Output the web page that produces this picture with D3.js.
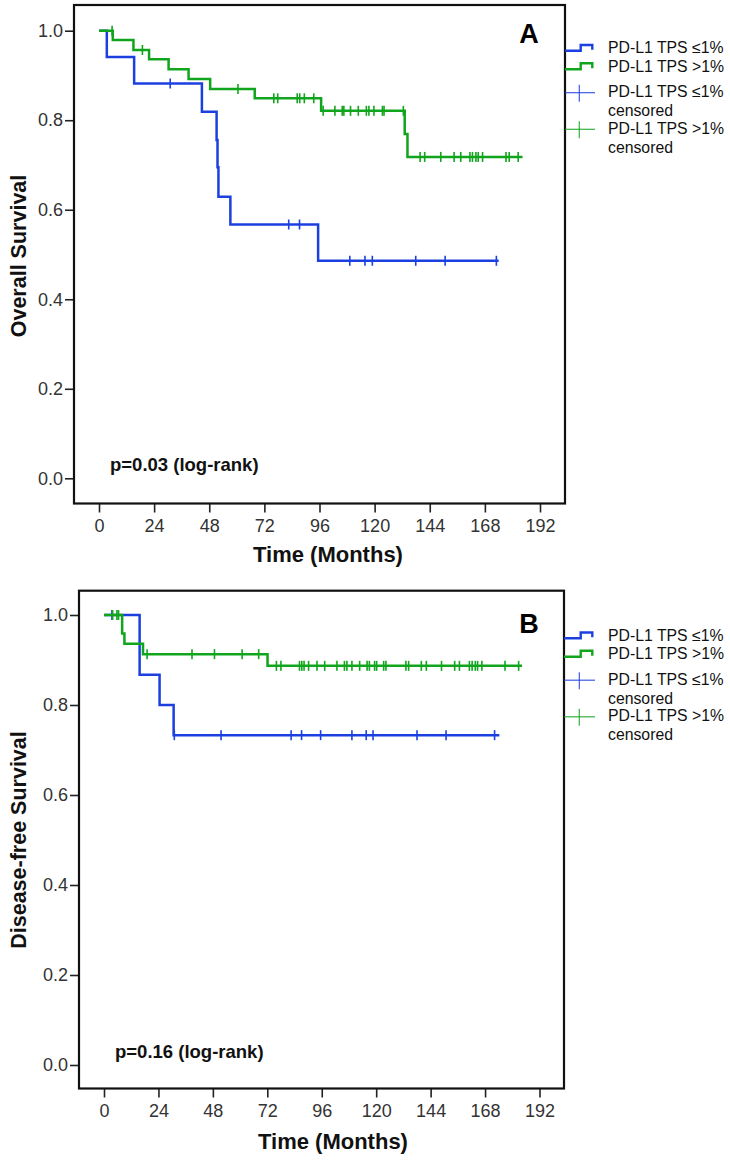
<!DOCTYPE html>
<html>
<head>
<meta charset="utf-8">
<script src="https://cdn.jsdelivr.net/npm/d3@7"></script>
<style>
body { margin: 0; background: #fff; }
svg { display: block; font-family: "Liberation Sans", Arial, sans-serif; }
</style>
</head>
<body>
<div class="chart"></div>
<script>
// Kaplan-Meier data: [time in months, survival]
var osLowSteps = [[0, 1], [3.4, 0.941], [15.3, 0.882], [44.8, 0.819], [51.2, 0.756], [51.6, 0.695], [52.0, 0.629], [57.2, 0.567], [95.4, 0.486]];
var osLowEnd = 174;
var osLowCens = [31, 82.6, 87.3, 109.2, 115.8, 119, 137.9, 150.7, 173];

var osHighSteps = [[0, 1], [6.0, 0.979], [15, 0.957], [21.8, 0.936], [30.3, 0.914], [39, 0.892], [48.4, 0.870], [67.8, 0.849], [96.7, 0.821], [133.1, 0.769], [134.3, 0.718]];
var osHighEnd = 184.4;
var osHighCens = [5.7, 18.9, 60.5, 76.1, 77.8, 86.3, 87.4, 89.4, 93.5, 97.6, 102.7, 105.9, 106.6, 109.5, 112.9, 116.4, 117.5, 119.7, 123.4, 124.1, 132.5,
                  139.8, 141.8, 148.8, 154.6, 157.5, 161.5, 162.6, 164.1, 165.1, 167, 177.2, 178.6, 182.5];

var dfsLowSteps = [[0, 1], [15.7, 0.867], [24.5, 0.800], [30.7, 0.733]];
var dfsLowEnd = 174.3;
var dfsLowCens = [3.5, 31, 51.6, 82.5, 87.1, 95.5, 109.3, 115.6, 118.6, 138, 150.8, 172.2];

var dfsHighSteps = [[0, 1], [8, 0.959], [9, 0.936], [17.2, 0.913], [72.1, 0.887]];
var dfsHighEnd = 184.3;
var dfsHighCens = [3.8, 5.7, 6.4, 19, 38.8, 48.7, 60.9, 68.2, 76, 78, 86.2, 87.2, 88.2, 90.2, 93.9, 97.3, 102.7, 106, 107.1, 109.3, 112.7, 116, 117,
                   119.3, 120.2, 123.3, 124.3, 133.1, 134.3, 139.9, 142.1, 148.8, 154.6, 156.7, 161.1, 162.3, 163.7, 164.7, 166.6, 176.8, 182.8];

var xTicks = [0, 24, 48, 72, 96, 120, 144, 168, 192];
var yTicks = [0, 0.2, 0.4, 0.6, 0.8, 1.0];
var groupLabels = ["PD-L1 TPS \u22641%", "PD-L1 TPS >1%"];

var blue = "#1c40e0";
var green = "#10a51c";

var svg = d3.select(".chart")
            .append("svg")
            .attr("width", 730)
            .attr("height", 1162);

var panels = [
    {
        left: 74, right: 565, top: 5, bottom: 503.5,
        xRange: [99, 540], yRange: [478.3, 30.7],
        yTitle: "Overall Survival", yTitleY: 256,
        xTitleX: 328, xTitleY: 562,
        letter: "A", letterY: 43,
        pText: "p=0.03 (log-rank)", pX: 110, pY: 471,
        legendDy: 0,
        series: [
            {steps: osLowSteps, end: osLowEnd, cens: osLowCens, color: blue},
            {steps: osHighSteps, end: osHighEnd, cens: osHighCens, color: green}
        ]
    },
    {
        left: 79, right: 564, top: 590.7, bottom: 1088.5,
        xRange: [104, 539.5], yRange: [1065, 615],
        yTitle: "Disease-free Survival", yTitleY: 840,
        xTitleX: 333, xTitleY: 1149,
        letter: "B", letterY: 632.5,
        pText: "p=0.16 (log-rank)", pX: 115, pY: 1058,
        legendDy: 587.5,
        series: [
            {steps: dfsLowSteps, end: dfsLowEnd, cens: dfsLowCens, color: blue},
            {steps: dfsHighSteps, end: dfsHighEnd, cens: dfsHighCens, color: green}
        ]
    }
];

// survival value of a step curve at time t
function survAt(steps, t) {
    var s = steps[0][1];
    steps.forEach(function(d) { if (d[0] <= t) s = d[1]; });
    return s;
}

panels.forEach(function(p) {
    var x = d3.scaleLinear().domain([0, 192]).range(p.xRange);
    var y = d3.scaleLinear().domain([0, 1]).range(p.yRange);
    var g = svg.append("g");

    // axes
    var leftAxis = d3.axisLeft(y).tickValues(yTicks).tickFormat(d3.format(".1f")).tickSize(9).tickPadding(2);
    var bottomAxis = d3.axisBottom(x).tickValues(xTicks).tickSize(9).tickPadding(7);

    var ya = g.append("g").attr("transform", `translate(${p.left},0)`).call(leftAxis);
    var xa = g.append("g").attr("transform", `translate(0,${p.bottom})`).call(bottomAxis);
    [ya, xa].forEach(function(a) {
        a.select(".domain").remove();
        a.selectAll(".tick line").attr("stroke", "#222").attr("stroke-width", 1.6);
        a.selectAll(".tick text").attr("fill", "#333").attr("font-size", 18)
         .attr("font-family", "Liberation Sans, Arial, sans-serif");
    });

    // frame
    g.append("rect")
     .attr("x", p.left).attr("y", p.top)
     .attr("width", p.right - p.left).attr("height", p.bottom - p.top)
     .attr("fill", "none").attr("stroke", "#111").attr("stroke-width", 2.2);

    // curves
    var line = d3.line().x(d => x(d[0])).y(d => y(d[1])).curve(d3.curveStepAfter);
    p.series.forEach(function(s) {
        var pts = s.steps.concat([[s.end, s.steps[s.steps.length - 1][1]]]);
        g.append("path")
         .attr("d", line(pts))
         .attr("fill", "none").attr("stroke", s.color).attr("stroke-width", 2.5);
        g.selectAll(null)
         .data(s.cens)
         .enter()
         .append("line")
         .attr("x1", d => x(d)).attr("x2", d => x(d))
         .attr("y1", d => y(survAt(s.steps, d)) - 5)
         .attr("y2", d => y(survAt(s.steps, d)) + 5)
         .attr("stroke", s.color).attr("stroke-width", 1.6);
    });

    // titles
    g.append("text")
     .attr("transform", `translate(19,${p.yTitleY}) rotate(-90)`)
     .attr("text-anchor", "middle").attr("dominant-baseline", "central")
     .attr("font-weight", "bold").attr("font-size", 21.5).attr("fill", "#111")
     .text(p.yTitle);
    g.append("text")
     .attr("x", p.xTitleX).attr("y", p.xTitleY)
     .attr("text-anchor", "middle")
     .attr("font-weight", "bold").attr("font-size", 22).attr("fill", "#111")
     .text("Time (Months)");
    g.append("text")
     .attr("x", 529).attr("y", p.letterY)
     .attr("text-anchor", "middle")
     .attr("font-weight", "bold").attr("font-size", 27).attr("fill", "#000")
     .text(p.letter);
    g.append("text")
     .attr("x", p.pX).attr("y", p.pY)
     .attr("font-weight", "bold").attr("font-size", 18.5).attr("fill", "#111")
     .text(p.pText);

    // legend
    var lg = g.append("g").attr("transform", `translate(0,${p.legendDy})`);
    var colors = [blue, green];
    var stepY = [[50.7, 45], [69.3, 63.3]];
    colors.forEach(function(c, i) {
        var lo = stepY[i][0], hi = stepY[i][1];
        lg.append("path")
          .attr("d", `M${p.right},${lo}H580.7V${hi}H592.3V${lo - 1}`)
          .attr("fill", "none").attr("stroke", c).attr("stroke-width", 2.4);
        lg.append("text")
          .attr("x", 608).attr("y", (lo + hi) / 2 + 5.5)
          .attr("font-size", 15.8).attr("fill", "#111")
          .text(groupLabels[i]);
    });
    var censY = [92.7, 129.3];
    colors.forEach(function(c, i) {
        var cy = censY[i];
        lg.append("line").attr("x1", p.right).attr("x2", 595).attr("y1", cy).attr("y2", cy)
          .attr("stroke", c).attr("stroke-width", 1.2).attr("opacity", 0.85);
        lg.append("line").attr("x1", 579.3).attr("x2", 579.3).attr("y1", cy - 8).attr("y2", cy + 9)
          .attr("stroke", c).attr("stroke-width", 1.2).attr("opacity", 0.85);
        lg.append("text")
          .attr("x", 608).attr("y", cy + 4.5)
          .attr("font-size", 15.8).attr("fill", "#111")
          .text(groupLabels[i]);
        lg.append("text")
          .attr("x", 608).attr("y", cy + 23.5)
          .attr("font-size", 15.8).attr("fill", "#111")
          .text("censored");
    });
});
</script>
</body>
</html>
